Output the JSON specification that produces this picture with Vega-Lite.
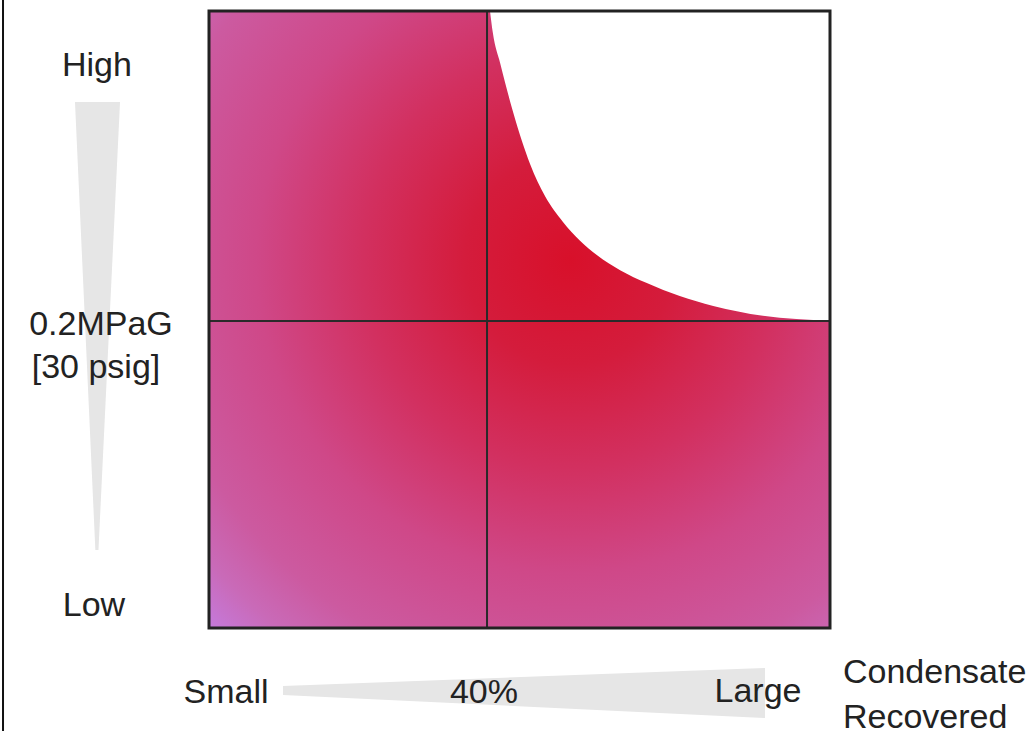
{
  "$schema": "https://vega.github.io/schema/vega-lite/v6.json",
  "width": 621,
  "height": 617,
  "autosize": "none",
  "padding": {"left": 209, "top": 11, "right": 206, "bottom": 103},
  "background": "white",
  "config": {"view": {"stroke": null}},
  "layer": [
    {
      "data": {"values": [{"x": 0, "x2": 100, "y": 0, "y2": 100}]},
      "mark": {
        "type": "rect",
        "fill": {
          "gradient": "radial",
          "x1": 0.581, "y1": 0.404, "r1": 0,
          "x2": 0.581, "y2": 0.404, "r2": 0.84,
          "stops": [
            {"offset": 0, "color": "#d8102a"},
            {"offset": 0.2, "color": "#d41c3c"},
            {"offset": 0.4, "color": "#d23060"},
            {"offset": 0.6, "color": "#cf4888"},
            {"offset": 0.8, "color": "#cc5aa0"},
            {"offset": 0.9, "color": "#c96ab8"},
            {"offset": 1, "color": "#c47ce0"}
          ]
        }
      },
      "encoding": {
        "x": {"field": "x", "type": "quantitative", "scale": {"domain": [0, 100], "nice": false, "zero": false}, "axis": null},
        "x2": {"field": "x2"},
        "y": {"field": "y", "type": "quantitative", "scale": {"domain": [0, 100], "nice": false, "zero": false}, "axis": null},
        "y2": {"field": "y2"}
      }
    },
    {
      "data": {"values": [
        {"x": 45.25, "y": 100, "top": 100},
        {"x": 45.7, "y": 96.5, "top": 100},
        {"x": 46.9, "y": 91.5, "top": 100},
        {"x": 49.0, "y": 83.5, "top": 100},
        {"x": 51.7, "y": 75.2, "top": 100},
        {"x": 54.1, "y": 70.0, "top": 100},
        {"x": 57.0, "y": 65.8, "top": 100},
        {"x": 62.5, "y": 60.4, "top": 100},
        {"x": 66.2, "y": 58.0, "top": 100},
        {"x": 70.5, "y": 55.9, "top": 100},
        {"x": 75.8, "y": 53.8, "top": 100},
        {"x": 81.2, "y": 52.2, "top": 100},
        {"x": 89.2, "y": 50.6, "top": 100},
        {"x": 100, "y": 49.8, "top": 100}
      ]},
      "mark": {"type": "area", "fill": "white", "interpolate": "monotone", "orient": "vertical"},
      "encoding": {
        "x": {"field": "x", "type": "quantitative", "scale": {"domain": [0, 100], "nice": false, "zero": false}, "axis": null},
        "y": {"field": "y", "type": "quantitative", "scale": {"domain": [0, 100], "nice": false, "zero": false}, "axis": null},
        "y2": {"field": "top"}
      }
    },
    {
      "data": {"values": [{"x": 44.77}]},
      "mark": {"type": "rule", "color": "#2a2a2a", "strokeWidth": 2},
      "encoding": {
        "x": {"field": "x", "type": "quantitative", "scale": {"domain": [0, 100], "nice": false, "zero": false}, "axis": null}
      }
    },
    {
      "data": {"values": [{"y": 49.76}]},
      "mark": {"type": "rule", "color": "#2a2a2a", "strokeWidth": 2},
      "encoding": {
        "y": {"field": "y", "type": "quantitative", "scale": {"domain": [0, 100], "nice": false, "zero": false}, "axis": null}
      }
    },
    {
      "data": {"values": [{"x": 0, "x2": 100, "y": 0, "y2": 100}]},
      "mark": {"type": "rect", "fill": null, "fillOpacity": 0, "stroke": "#222222", "strokeWidth": 3},
      "encoding": {
        "x": {"field": "x", "type": "quantitative", "scale": {"domain": [0, 100], "nice": false, "zero": false}, "axis": null},
        "x2": {"field": "x2"},
        "y": {"field": "y", "type": "quantitative", "scale": {"domain": [0, 100], "nice": false, "zero": false}, "axis": null},
        "y2": {"field": "y2"}
      }
    },
    {
      "data": {"values": [
        {"y": 85.25, "x": -21.58, "x2": -14.33},
        {"y": 12.64, "x": -18.3, "x2": -17.8}
      ]},
      "mark": {"type": "area", "orient": "horizontal", "fill": "#e6e6e6"},
      "encoding": {
        "y": {"field": "y", "type": "quantitative", "scale": {"domain": [0, 100], "nice": false, "zero": false}, "axis": null},
        "x": {"field": "x", "type": "quantitative", "scale": {"domain": [0, 100], "nice": false, "zero": false}, "axis": null},
        "x2": {"field": "x2"}
      }
    },
    {
      "data": {"values": [
        {"x": 11.92, "y": -9.4, "y2": -10.86},
        {"x": 89.53, "y": -6.48, "y2": -14.59}
      ]},
      "mark": {"type": "area", "orient": "vertical", "fill": "#e6e6e6"},
      "encoding": {
        "x": {"field": "x", "type": "quantitative", "scale": {"domain": [0, 100], "nice": false, "zero": false}, "axis": null},
        "y": {"field": "y", "type": "quantitative", "scale": {"domain": [0, 100], "nice": false, "zero": false}, "axis": null},
        "y2": {"field": "y2"}
      }
    },
    {
      "data": {"values": [{"x": -33.17, "y": 101.8, "y2": -16.7}]},
      "mark": {"type": "rule", "color": "#111111", "strokeWidth": 2},
      "encoding": {
        "x": {"field": "x", "type": "quantitative", "scale": {"domain": [0, 100], "nice": false, "zero": false}, "axis": null},
        "y": {"field": "y", "type": "quantitative", "scale": {"domain": [0, 100], "nice": false, "zero": false}, "axis": null},
        "y2": {"field": "y2"}
      }
    },
    {
      "data": {"values": [
        {"x": -18.04, "y": 89.46, "label": "High"},
        {"x": -17.39, "y": 47.49, "label": "0.2MPaG"},
        {"x": -18.2, "y": 40.52, "label": "[30 psig]"},
        {"x": -18.52, "y": 1.94, "label": "Low"},
        {"x": 2.74, "y": -12.16, "label": "Small"},
        {"x": 44.28, "y": -12.16, "label": "40%"},
        {"x": 88.41, "y": -11.99, "label": "Large"}
      ]},
      "mark": {"type": "text", "align": "center", "baseline": "alphabetic", "font": "Liberation Sans", "fontSize": 34, "color": "#222222"},
      "encoding": {
        "x": {"field": "x", "type": "quantitative", "scale": {"domain": [0, 100], "nice": false, "zero": false}, "axis": null},
        "y": {"field": "y", "type": "quantitative", "scale": {"domain": [0, 100], "nice": false, "zero": false}, "axis": null},
        "text": {"field": "label"}
      }
    },
    {
      "data": {"values": [
        {"x": 102.09, "y": -8.91, "label": "Condensate"},
        {"x": 102.09, "y": -16.21, "label": "Recovered"}
      ]},
      "mark": {"type": "text", "align": "left", "baseline": "alphabetic", "font": "Liberation Sans", "fontSize": 34, "color": "#222222"},
      "encoding": {
        "x": {"field": "x", "type": "quantitative", "scale": {"domain": [0, 100], "nice": false, "zero": false}, "axis": null},
        "y": {"field": "y", "type": "quantitative", "scale": {"domain": [0, 100], "nice": false, "zero": false}, "axis": null},
        "text": {"field": "label"}
      }
    }
  ]
}
